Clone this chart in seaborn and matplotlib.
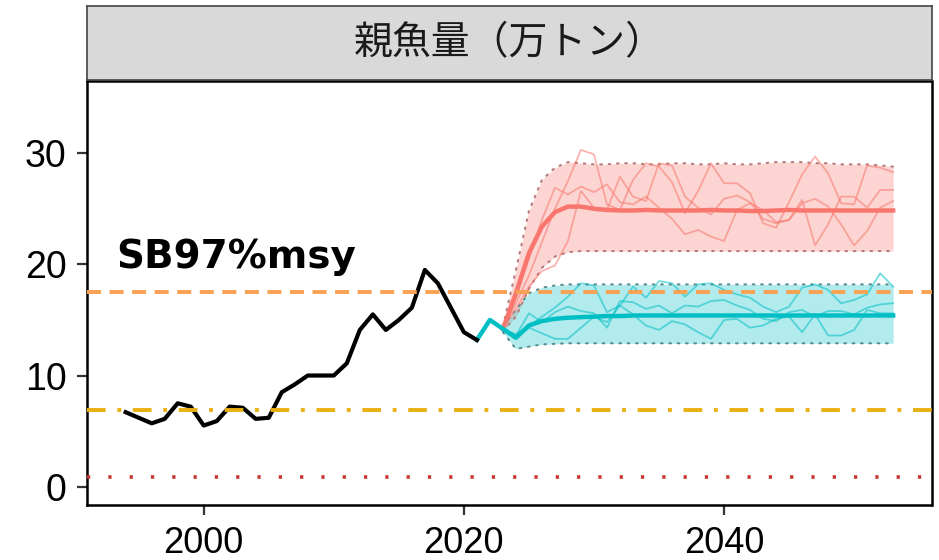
import numpy as np
import pandas as pd
import matplotlib
matplotlib.use("Agg")
import matplotlib.pyplot as plt
from matplotlib import font_manager
import seaborn as sns

# ---------------- data ----------------
hist_years = list(range(1994, 2022))
hist_sb = [6.7, 6.2, 5.7, 6.1, 7.5, 7.2, 5.5, 5.9, 7.2, 7.1, 6.1, 6.2, 8.5, 9.2,
           10.0, 10.0, 10.0, 11.1, 14.1, 15.5, 14.1, 15.0, 16.1, 19.5, 18.3, 16.1,
           13.9, 13.2]

bridge_years = [2021, 2022, 2023]
bridge_sb = [13.2, 15.0, 14.2]

proj_years = list(range(2023, 2054))
red_med = [14.2, 17.4, 21.0, 23.4, 24.7, 25.2, 25.2, 25.0, 24.9, 24.85, 24.85, 24.9,
           24.85, 24.85, 24.85, 24.85, 24.9, 24.85, 24.85, 24.8, 24.8, 24.85, 24.9,
           24.85, 24.85, 24.85, 24.85, 24.85, 24.85, 24.85, 24.85]
red_hi = [14.4, 19.5, 24.8, 27.6, 28.7, 29.2, 29.1, 29.0, 29.0, 29.1, 29.1, 29.0,
          29.0, 29.1, 29.1, 29.0, 29.0, 29.1, 29.0, 29.0, 29.1, 29.2, 29.2, 29.2,
          29.1, 29.1, 29.0, 29.0, 29.0, 28.9, 28.8]
red_lo = [14.0, 15.3, 17.8, 19.7, 20.7, 21.1, 21.2, 21.2, 21.2, 21.2, 21.2, 21.2,
          21.2, 21.2, 21.2, 21.2, 21.2, 21.2, 21.2, 21.2, 21.2, 21.2, 21.2, 21.2,
          21.2, 21.2, 21.2, 21.2, 21.2, 21.2, 21.2]
red_sim1 = [14.2, 16.5, 19.0, 22.0, 25.0, 27.5, 30.3, 29.9, 25.4, 24.9, 27.6, 29.1,
            28.8, 27.4, 24.6, 26.6, 29.1, 27.3, 27.3, 26.4, 23.7, 23.3, 25.6, 28.1,
            29.7, 28.2, 25.5, 25.4, 28.9, 28.7, 28.3]
red_sim2 = [14.2, 17.0, 20.5, 24.0, 26.9, 26.3, 27.0, 26.5, 27.2, 25.6, 25.4, 26.1,
            25.1, 24.1, 22.7, 23.1, 22.5, 22.1, 24.9, 25.5, 24.9, 23.8, 24.0, 25.8,
            21.7, 23.6, 26.1, 26.1, 25.1, 26.7, 26.7]
red_sim3 = [14.2, 16.0, 18.0, 19.4, 19.9, 22.1, 26.6, 25.1, 24.9, 27.9, 26.1, 25.7,
            29.1, 28.9, 26.1, 25.1, 24.5, 25.9, 26.2, 25.6, 24.1, 23.7, 24.0, 25.5,
            25.9, 25.2, 23.6, 21.7, 23.0, 25.1, 25.7]

teal_med = [14.2, 13.4, 14.5, 14.9, 15.1, 15.2, 15.25, 15.3, 15.35, 15.35, 15.4,
            15.4, 15.4, 15.4, 15.4, 15.4, 15.4, 15.4, 15.4, 15.4, 15.4, 15.4, 15.4,
            15.4, 15.4, 15.4, 15.4, 15.4, 15.4, 15.4, 15.4]
teal_hi = [14.5, 15.9, 17.4, 17.9, 18.1, 18.2, 18.2, 18.2, 18.2, 18.2, 18.2, 18.2,
           18.2, 18.2, 18.2, 18.2, 18.2, 18.2, 18.2, 18.2, 18.2, 18.2, 18.2, 18.2,
           18.2, 18.2, 18.2, 18.2, 18.2, 18.2, 18.2]
teal_lo = [13.9, 12.4, 12.6, 12.8, 12.85, 12.9, 12.9, 12.9, 12.9, 12.9, 12.9, 12.9,
           12.9, 12.9, 12.9, 12.9, 12.9, 12.9, 12.9, 12.9, 12.9, 12.9, 12.9, 12.9,
           12.9, 12.9, 12.9, 12.9, 12.9, 12.9, 12.9]
teal_sim1 = [14.2, 13.7, 14.4, 15.3, 16.1, 17.1, 18.3, 18.1, 15.7, 16.3, 18.0, 17.0,
             18.5, 18.3, 17.1, 18.2, 18.3, 17.7, 17.3, 17.0, 16.2, 15.7, 16.2, 17.9,
             18.2, 17.7, 16.5, 16.8, 17.3, 19.2, 18.0]
teal_sim2 = [14.2, 13.6, 15.6, 14.8, 15.7, 16.2, 15.8, 15.6, 14.3, 16.7, 16.6, 16.0,
             16.3, 15.6, 16.3, 16.2, 16.7, 16.8, 16.3, 15.9, 15.1, 14.9, 15.7, 15.9,
             15.3, 15.8, 15.8, 15.5, 16.1, 16.4, 16.5]
teal_sim3 = [14.2, 13.4, 14.3, 13.8, 13.3, 13.3, 14.3, 15.3, 14.8, 16.3, 15.5, 14.5,
             14.1, 14.9, 14.6, 13.9, 13.3, 15.0, 15.1, 14.3, 14.5, 15.1, 15.3, 13.9,
             15.5, 13.6, 13.6, 14.1, 15.9, 15.6, 15.6]

ref_lines = {"target": 17.55, "limit": 6.92, "ban": 0.9}

x_ticks = [2000, 2020, 2040]
y_ticks = [0, 10, 20, 30]
panel_title = "親魚量（万トン）"
annot = "SB97%msy"

# ---------------- styling ----------------
RED = "#F8766D"
TEAL = "#00BFC4"

W, H = 939, 560
fig = plt.figure(figsize=(W / 100, H / 100), dpi=100)
L, R, T, B = 87.3, 931.5, 81, 505
ax = fig.add_axes([L / W, 1 - B / H, (R - L) / W, (B - T) / H])
strip = fig.add_axes([L / W, 1 - 80 / H, (R - L) / W, (80 - 6) / H])

# ribbons
ax.fill_between(proj_years, red_lo, red_hi, color=RED, alpha=0.3, lw=0, zorder=1)
ax.fill_between(proj_years, teal_lo, teal_hi, color=TEAL, alpha=0.3, lw=0, zorder=1)
for lo, hi, c in [(red_lo, red_hi, "#b87d7a"), (teal_lo, teal_hi, "#5a8f92")]:
    for arr in (lo, hi):
        ax.plot(proj_years, arr, ls=(0, (0.8, 3.2)), color=c, linewidth=1.5, zorder=2,
                dash_capstyle="round")

# simulations
sims = []
for k, arr in enumerate([red_sim1, red_sim2, red_sim3]):
    sims.append(pd.DataFrame({"year": proj_years, "sb": arr, "unit": f"r{k}", "sc": "red"}))
for k, arr in enumerate([teal_sim1, teal_sim2, teal_sim3]):
    sims.append(pd.DataFrame({"year": proj_years, "sb": arr, "unit": f"t{k}", "sc": "teal"}))
sims = pd.concat(sims)
sns.lineplot(data=sims, x="year", y="sb", hue="sc", units="unit", estimator=None,
             palette={"red": RED, "teal": TEAL}, linewidth=1.3, alpha=0.55, legend=False,
             ax=ax, zorder=3)

# medians
med = pd.concat([
    pd.DataFrame({"year": proj_years, "sb": red_med, "sc": "red"}),
    pd.DataFrame({"year": bridge_years + proj_years[1:], "sb": bridge_sb + teal_med[1:], "sc": "teal"}),
])
sns.lineplot(data=med, x="year", y="sb", hue="sc", palette={"red": RED, "teal": TEAL},
             linewidth=3.2, legend=False, ax=ax, zorder=4)

# historical
hist = pd.DataFrame({"year": hist_years, "sb": hist_sb})
sns.lineplot(data=hist, x="year", y="sb", color="black", linewidth=3.0, ax=ax, zorder=5)

# reference lines
ax.axhline(ref_lines["target"], color="#F7A152", linewidth=2.8, ls=(0, (3.6, 2.2)), zorder=6)
ax.axhline(ref_lines["limit"], color="#E8B012", linewidth=2.8, ls=(0, (4.8, 3.0, 1.0, 3.0)), zorder=6)
ax.axhline(ref_lines["ban"], color="#C8362F", linewidth=2.6, ls=(0, (0.9, 5.0)), zorder=6)

ax.text(1993.3, 19.7, annot, fontsize=28, fontweight="bold", family="DejaVu Sans",
        va="baseline", ha="left", zorder=7)

ax.set_xlim(1991.05, 2055.95)
ax.set_ylim(-1.65, 36.5)
ax.set_xticks(x_ticks)
ax.set_yticks(y_ticks)
ax.set_xlabel("")
ax.set_ylabel("")
ax.set_facecolor("white")
for s in ax.spines.values():
    s.set_color("black")
    s.set_linewidth(1.8)
ax.tick_params(axis="both", length=7, width=1.6, color="#333333", pad=8)
for lab in ax.get_yticklabels():
    lab.set_fontsize(27)
    lab.set_family("Liberation Sans")
for lab in ax.get_xticklabels():
    lab.set_fontsize(26)
    lab.set_family("Liberation Sans")

strip.set_facecolor("#D9D9D9")
strip.set_xticks([])
strip.set_yticks([])
for s in strip.spines.values():
    s.set_color("#444444")
    s.set_linewidth(1.2)
strip.text(0.5, 0.5, panel_title, ha="center", va="center", fontsize=28,
           family=["Noto Sans CJK JP", "DejaVu Sans"], color="#1a1a1a",
           transform=strip.transAxes)

fig.savefig("out.png", dpi=100, facecolor="white")
